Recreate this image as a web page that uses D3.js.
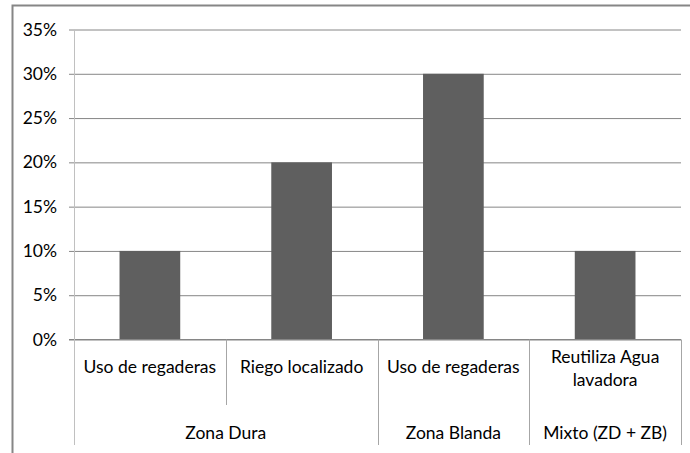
<!DOCTYPE html>
<html>
<head>
<meta charset="utf-8">
<script src="https://cdn.jsdelivr.net/npm/d3@7"></script>
<style>
  html, body { margin: 0; padding: 0; background: #fff; }
  svg { display: block; }
  text { font-family: Lato, "Open Sans", sans-serif; font-size: 17.5px; fill: #000; }
</style>
</head>
<body>
<svg id="chart" width="690" height="453"></svg>
<script>
// Categories (two-level axis) and values
const categories = ["Uso de regaderas", "Riego localizado", "Uso de regaderas", "Reutiliza Agua lavadora"];
const groups = ["Zona Dura", "Zona Dura", "Zona Blanda", "Mixto (ZD + ZB)"];
const values = [0.10, 0.20, 0.30, 0.10];
const yTicks = [0, 0.05, 0.10, 0.15, 0.20, 0.25, 0.30, 0.35];

const svg = d3.select("#chart");

// outer chart frame
svg.append("rect")
  .attr("x", 12.5).attr("y", 5.5)
  .attr("width", 700).attr("height", 470)
  .attr("fill", "none").attr("stroke", "#868686").attr("stroke-width", 2);

const plot = { left: 74, right: 681, top: 29.5, bottom: 339.5 };

const x = d3.scaleBand()
  .domain(d3.range(categories.length))
  .range([plot.left, plot.right])
  .paddingInner(0.6).paddingOuter(0.3);

const xCat = d3.scaleBand()
  .domain(d3.range(categories.length))
  .range([plot.left, plot.right]);

const y = d3.scaleLinear().domain([0, 0.35]).range([plot.bottom, plot.top]);

// horizontal gridlines with tick marks on the left
const yAxis = d3.axisLeft(y)
  .tickValues(yTicks)
  .tickFormat(d3.format(".0%"))
  .tickSize(-(plot.right - plot.left))
  .tickSizeOuter(0)
  .tickPadding(17);

const gy = svg.append("g").attr("transform", `translate(${plot.left},0)`).call(yAxis);
gy.select(".domain").remove();
gy.selectAll(".tick line")
  .attr("x1", -5)
  .attr("stroke", "#868686");
gy.selectAll(".tick text")
  .attr("font-family", "Lato, 'Open Sans', sans-serif")
  .attr("font-size", 17)
  .attr("fill", "#000");

// bars
svg.append("g").selectAll("rect")
  .data(values)
  .join("rect")
  .attr("x", (d, i) => x(i))
  .attr("width", x.bandwidth())
  .attr("y", d => y(d))
  .attr("height", d => y(0) - y(d))
  .attr("fill", "#5f5f5f");

// redraw the baseline above the bars
svg.append("line")
  .attr("x1", plot.left - 5).attr("x2", plot.right)
  .attr("y1", y(0)).attr("y2", y(0))
  .attr("stroke", "#868686");

// vertical value axis line
const groupBottom = 445;
const catBottom = 405;
svg.append("line")
  .attr("x1", plot.left + 0.5).attr("x2", plot.left + 0.5)
  .attr("y1", plot.top).attr("y2", groupBottom)
  .attr("stroke", "#c0c0c0");

// category separators: short within a group, long between groups
const seps = d3.range(1, categories.length + 1);
svg.append("g").selectAll("line")
  .data(seps)
  .join("line")
  .attr("x1", i => Math.round(plot.left + xCat.step() * i) + 0.5)
  .attr("x2", i => Math.round(plot.left + xCat.step() * i) + 0.5)
  .attr("y1", y(0))
  .attr("y2", i => (i < categories.length && groups[i] === groups[i - 1]) ? catBottom : groupBottom)
  .attr("stroke", "#a6a6a6");

// category labels (wrapped when too wide)
const catG = svg.append("g");
categories.forEach((c, i) => {
  const cx = xCat(i) + xCat.bandwidth() / 2;
  const lines = c === "Reutiliza Agua lavadora" ? ["Reutiliza Agua", "lavadora"] : [c];
  const y0 = lines.length > 1 ? 363 : 373;
  lines.forEach((ln, k) => {
    catG.append("text")
      .attr("x", cx).attr("y", y0 + k * 23)
      .attr("text-anchor", "middle")
      .text(ln);
  });
});

// group labels centred under each run of categories
const runs = [];
groups.forEach((g, i) => {
  if (runs.length && runs[runs.length - 1].name === g) runs[runs.length - 1].end = i;
  else runs.push({ name: g, start: i, end: i });
});
svg.append("g").selectAll("text")
  .data(runs)
  .join("text")
  .attr("x", r => (xCat(r.start) + xCat(r.end) + xCat.bandwidth()) / 2)
  .attr("y", 439)
  .attr("text-anchor", "middle")
  .text(r => r.name);
</script>
</body>
</html>
